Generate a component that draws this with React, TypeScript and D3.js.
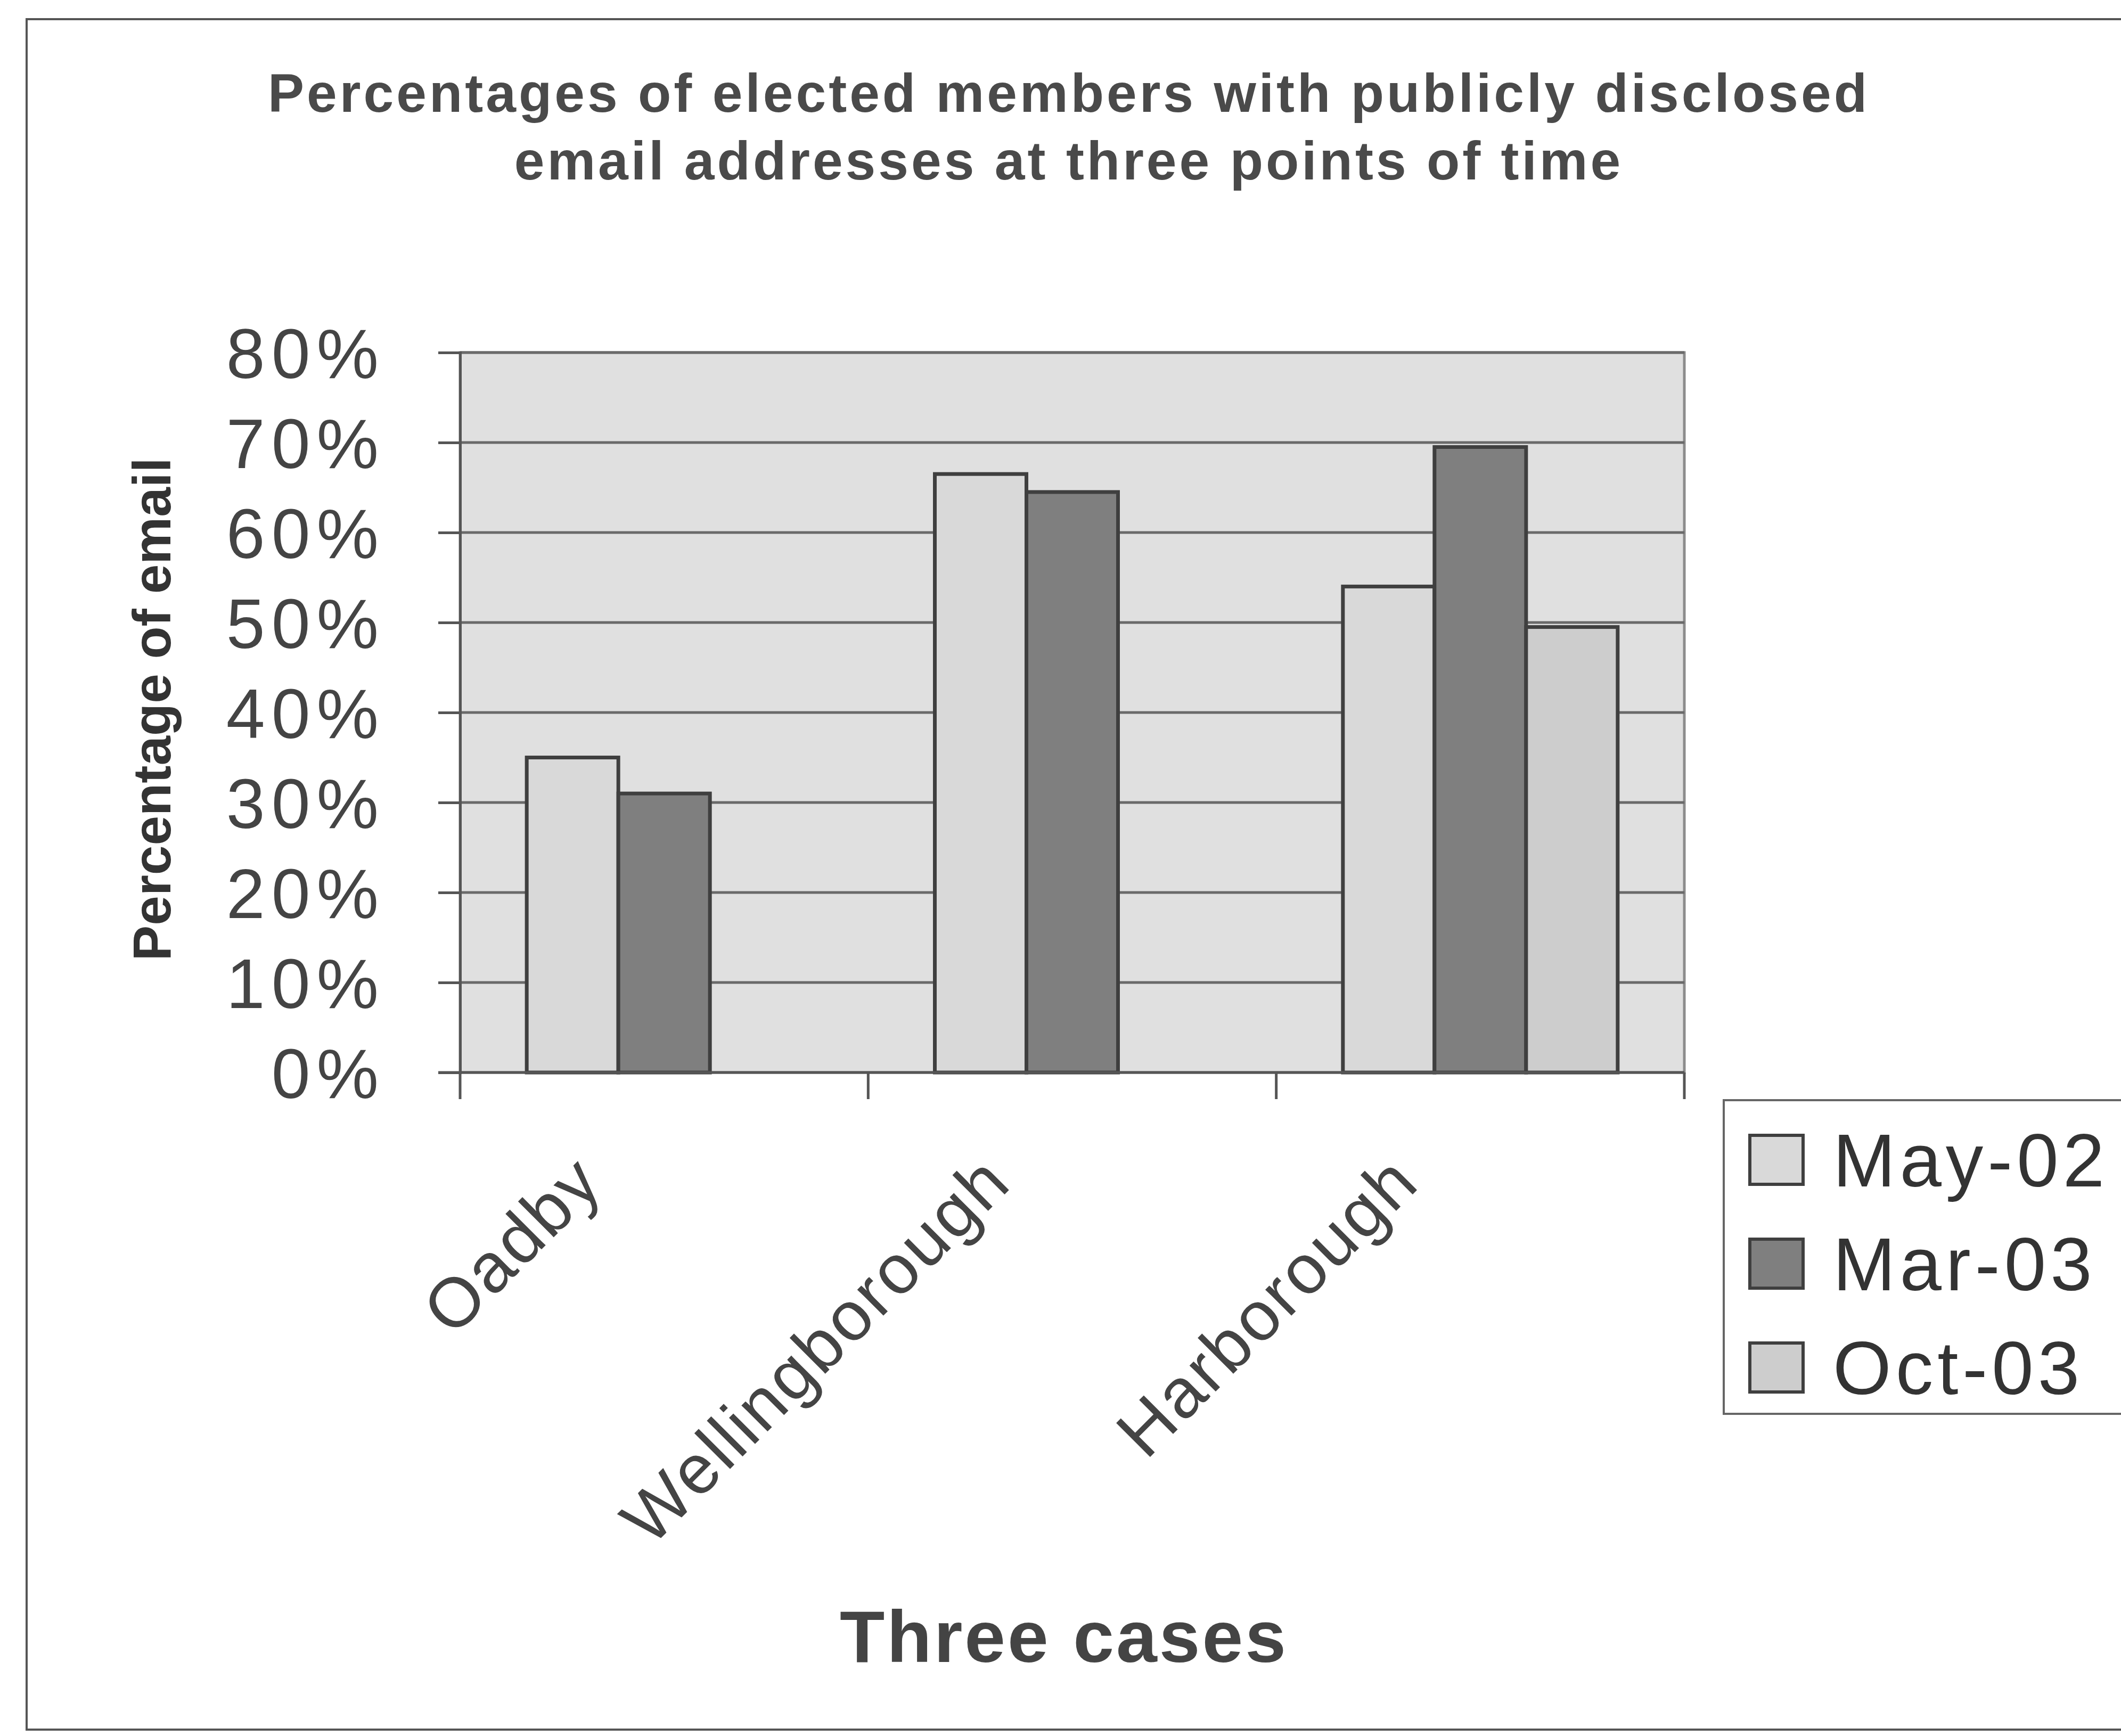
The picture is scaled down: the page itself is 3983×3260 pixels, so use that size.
import React, { useEffect, useRef } from 'react';
import * as d3 from 'd3';

// Chart data
const categories = ['Oadby', 'Wellingborough', 'Harborough'];
const seriesNames = ['May-02', 'Mar-03', 'Oct-03'];
const may02 = [0.35, 0.665, 0.54];
const mar03 = [0.31, 0.645, 0.695];
const oct03 = [null, null, 0.495];
const yTicks = [0, 0.1, 0.2, 0.3, 0.4, 0.5, 0.6, 0.7, 0.8];

const App = () => {
  const chartRef = useRef(null);

  useEffect(() => {
    d3.select(chartRef.current).selectAll('*').remove();

    const width = 3983;
    const height = 3260;
    const plot = { left: 864, right: 3163, top: 662, bottom: 2014 };
    const font = 'Arial, "Liberation Sans", sans-serif';

    const svg = d3
      .select(chartRef.current)
      .append('svg')
      .attr('width', width)
      .attr('height', height)
      .style('position', 'absolute')
      .style('left', 0)
      .style('top', 0)
      .style('font-family', font);

    svg.append('rect').attr('width', width).attr('height', height).attr('fill', '#fff');

    // Outer chart border
    svg.append('rect')
      .attr('x', 50).attr('y', 36)
      .attr('width', 3990).attr('height', 3212)
      .attr('fill', 'none').attr('stroke', '#555').attr('stroke-width', 4);

    // Scales
    const x0 = d3.scaleBand().domain(categories).range([plot.left, plot.right]).padding(0);
    const groupWidth = 516;
    const x1 = d3.scaleBand().domain(seriesNames).range([0, groupWidth]).padding(0);
    const y = d3.scaleLinear().domain([0, 0.8]).range([plot.bottom, plot.top]);

    const color = d3.scaleOrdinal()
      .domain(seriesNames)
      .range(['#d9d9d9', '#7f7f7f', '#cdcdcd']);

    // Plot area
    svg.append('rect')
      .attr('x', plot.left).attr('y', plot.top)
      .attr('width', plot.right - plot.left).attr('height', plot.bottom - plot.top)
      .attr('fill', '#e0e0e0').attr('stroke', '#8c8c8c').attr('stroke-width', 5);

    // Gridlines
    svg.append('g')
      .selectAll('line')
      .data(yTicks.slice(1))
      .enter()
      .append('line')
      .attr('x1', plot.left).attr('x2', plot.right)
      .attr('y1', d => y(d)).attr('y2', d => y(d))
      .attr('stroke', '#6a6a6a').attr('stroke-width', 5);

    // Y axis
    const yAxis = svg.append('g')
      .attr('transform', `translate(${plot.left},0)`)
      .call(d3.axisLeft(y).tickValues(yTicks).tickFormat(d3.format('.0%')).tickSize(41).tickPadding(100));
    yAxis.select('.domain').attr('stroke', '#555').attr('stroke-width', 5);
    yAxis.selectAll('.tick line').attr('stroke', '#555').attr('stroke-width', 5);
    yAxis.selectAll('.tick text')
      .style('font-size', '131px')
      .style('letter-spacing', '12px')
      .style('font-family', font)
      .attr('fill', '#444')
      .attr('dy', '0.36em');

    // Bars
    const table = categories.map((c, i) => ({
      category: c,
      values: [
        { series: seriesNames[0], value: may02[i] },
        { series: seriesNames[1], value: mar03[i] },
        { series: seriesNames[2], value: oct03[i] },
      ].filter(d => d.value != null),
    }));

    const offset = (x0.bandwidth() - groupWidth) / 2;
    const groups = svg.append('g')
      .selectAll('g')
      .data(table)
      .enter()
      .append('g')
      .attr('transform', d => `translate(${x0(d.category) + offset},0)`);

    groups.selectAll('rect')
      .data(d => d.values)
      .enter()
      .append('rect')
      .attr('x', d => x1(d.series))
      .attr('y', d => y(d.value))
      .attr('width', x1.bandwidth())
      .attr('height', d => y(0) - y(d.value))
      .attr('fill', d => color(d.series))
      .attr('stroke', '#3f3f3f')
      .attr('stroke-width', 7);

    // X axis line and category ticks
    svg.append('line')
      .attr('x1', plot.left - 41).attr('x2', plot.right)
      .attr('y1', plot.bottom).attr('y2', plot.bottom)
      .attr('stroke', '#555').attr('stroke-width', 5);

    const edges = categories.map(c => x0(c)).concat([plot.right]);
    svg.append('g')
      .selectAll('line')
      .data(edges)
      .enter()
      .append('line')
      .attr('x1', d => d).attr('x2', d => d)
      .attr('y1', plot.bottom).attr('y2', plot.bottom + 50)
      .attr('stroke', '#555').attr('stroke-width', 5);

    // Category labels (rotated)
    svg.append('g')
      .selectAll('text')
      .data(categories)
      .enter()
      .append('text')
      .attr('transform', d => `translate(${x0(d) + x0.bandwidth() / 2 - 110},${plot.bottom + 212}) rotate(-45)`)
      .attr('text-anchor', 'end')
      .style('font-size', '131px')
      .style('letter-spacing', '4px')
      .attr('fill', '#444')
      .text(d => d);

    // Title
    const title = svg.append('text')
      .attr('text-anchor', 'middle')
      .style('font-size', '102px')
      .style('font-weight', 'bold')
      .style('letter-spacing', '5px')
      .attr('fill', '#4a4a4a');
    title.append('tspan').attr('x', 2007).attr('y', 210).text('Percentages of elected members with publicly disclosed');
    title.append('tspan').attr('x', 2007).attr('y', 337).text('email addresses at three points of time');

    // Y axis title
    svg.append('text')
      .attr('transform', `translate(320,1332) rotate(-90)`)
      .attr('text-anchor', 'middle')
      .style('font-size', '100px')
      .style('font-weight', 'bold')
      .attr('fill', '#333')
      .text('Percentage of email');

    // X axis title
    svg.append('text')
      .attr('x', 1998).attr('y', 3121)
      .attr('text-anchor', 'middle')
      .style('font-size', '138px')
      .style('font-weight', 'bold')
      .style('letter-spacing', '4px')
      .attr('fill', '#444')
      .text('Three cases');

    // Legend
    const legend = svg.append('g').attr('transform', 'translate(3237,2066)');
    legend.append('rect')
      .attr('width', 800).attr('height', 589)
      .attr('fill', '#fff').attr('stroke', '#666').attr('stroke-width', 4);

    const items = legend.selectAll('g.item')
      .data(seriesNames)
      .enter()
      .append('g')
      .attr('class', 'item')
      .attr('transform', (d, i) => `translate(0,${112 + i * 195})`);

    items.append('rect')
      .attr('x', 49).attr('y', -46)
      .attr('width', 100).attr('height', 92)
      .attr('fill', d => color(d))
      .attr('stroke', '#3f3f3f').attr('stroke-width', 6);

    items.append('text')
      .attr('x', 205).attr('y', 50)
      .style('font-size', '141px')
      .style('letter-spacing', '8px')
      .attr('fill', '#333')
      .text(d => d);
  }, []);

  return <div ref={chartRef}></div>;
};

export default App;
